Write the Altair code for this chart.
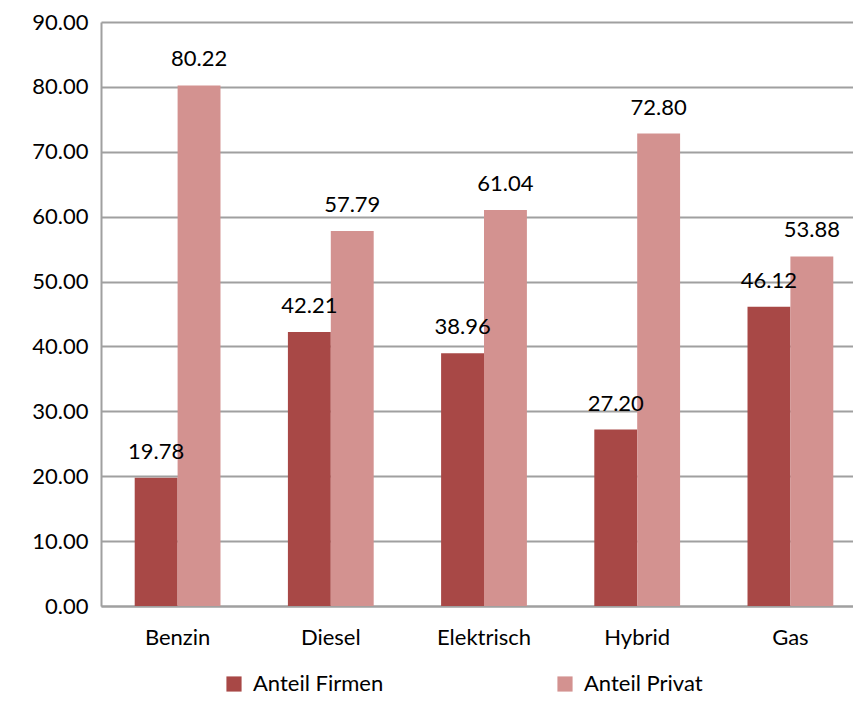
import altair as alt
import pandas as pd

categories = ["Benzin", "Diesel", "Elektrisch", "Hybrid", "Gas"]
firmen = [19.78, 42.21, 38.96, 27.20, 46.12]
privat = [80.22, 57.79, 61.04, 72.80, 53.88]
series = ["Anteil Firmen", "Anteil Privat"]
colors = ["#A84846", "#D39290"]

rows = []
for c, f, p in zip(categories, firmen, privat):
    rows.append({"Kraftstoff": c, "Serie": series[0], "Wert": f})
    rows.append({"Kraftstoff": c, "Serie": series[1], "Wert": p})
df = pd.DataFrame(rows)

FONT = "Lato"
FS = 23

x = alt.X("Kraftstoff:N", sort=categories,
          scale=alt.Scale(paddingInner=0.44, paddingOuter=0.22, range=[0, 766]),
          axis=alt.Axis(title=None, labelAngle=0, labelFontSize=FS - 1, labelFont=FONT,
                        labelColor="#000000", labelPadding=21, ticks=False,
                        domainColor="#A0A0A0", domainWidth=2))
y = alt.Y("Wert:Q", scale=alt.Scale(domain=[0, 90], nice=False),
          axis=alt.Axis(title=None, values=list(range(0, 91, 10)), format=".2f",
                        labelFontSize=FS - 1, labelFont=FONT, labelColor="#000000",
                        labelPadding=13, ticks=False, gridColor="#A0A0A0", gridWidth=2,
                        domainColor="#A0A0A0", domainWidth=2))
color = alt.Color("Serie:N", scale=alt.Scale(domain=series, range=colors),
                  legend=alt.Legend(title=None, orient="none", legendX=122, legendY=651,
                                    direction="horizontal", columns=2, columnPadding=170,
                                    symbolType="square", symbolSize=230, symbolStrokeWidth=0,
                                    labelFontSize=FS - 1, labelFont=FONT, labelColor="#000000",
                                    labelOffset=8))

base = alt.Chart(df).encode(x=x, xOffset=alt.XOffset("Serie:N", sort=series), y=y)

bars = base.mark_bar().encode(color=color)
labels = base.mark_text(baseline="middle", dy=-26, fontSize=FS - 1, font=FONT, color="#000000").encode(
    text=alt.Text("Wert:Q", format=".2f"))

chart = (bars + labels).properties(
    width=752, height=584,
    autosize=alt.AutoSizeParams(type="none"),
    padding={"left": 93, "top": 14, "right": 0, "bottom": 89},
).configure_view(stroke=None)

chart.save("out.html", embed_options={"renderer": "svg", "actions": False})
